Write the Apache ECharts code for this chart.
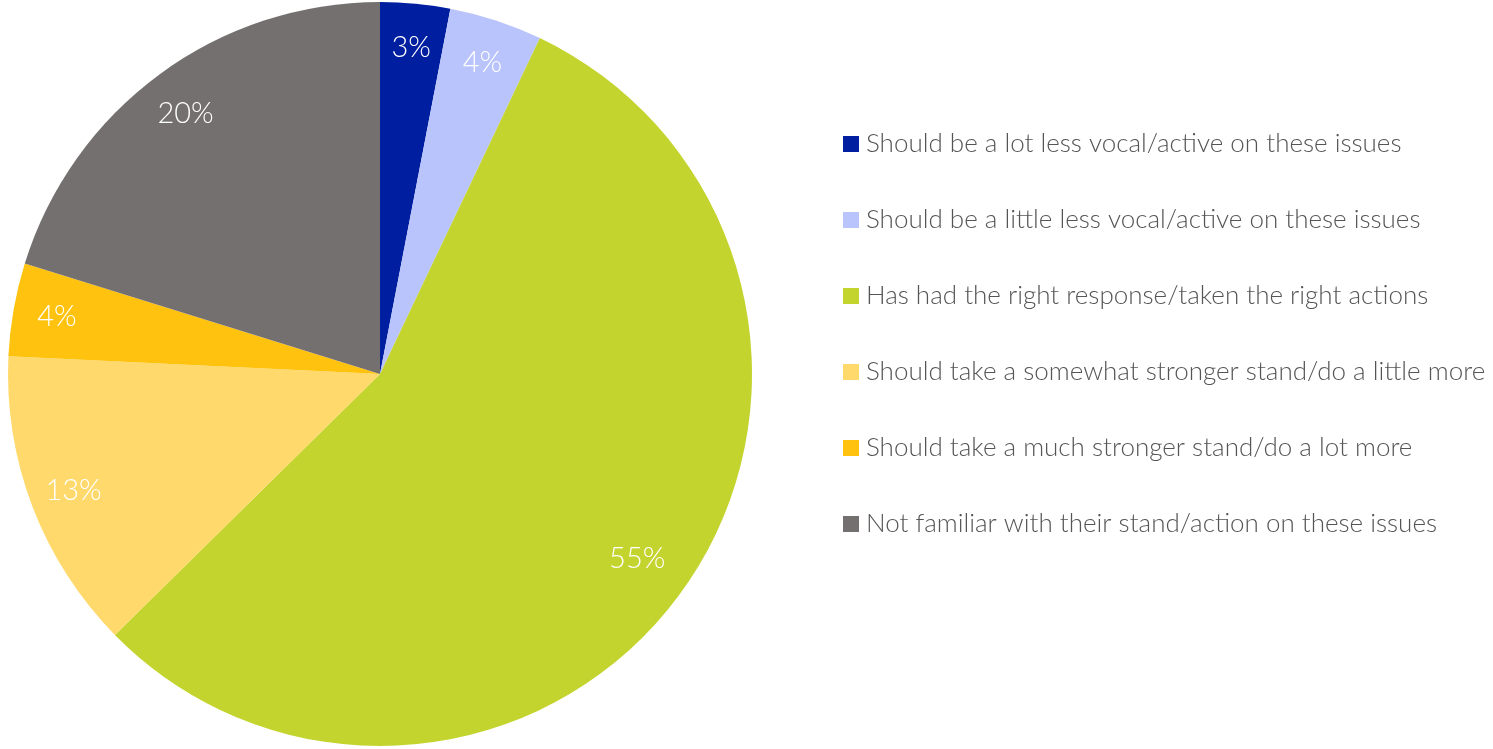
<!DOCTYPE html>
<html>
<head>
<meta charset="utf-8">
<script src="https://cdn.jsdelivr.net/npm/echarts@6/dist/echarts.min.js"></script>
<style>
html,body{margin:0;padding:0;background:#fff;}
#chart{width:1493px;height:749px;}
</style>
</head>
<body>
<div id="chart"></div>
<script>
const categories = [
  "Should be a lot less vocal/active on these issues",
  "Should be a little less vocal/active on these issues",
  "Has had the right response/taken the right actions",
  "Should take a somewhat stronger stand/do a little more",
  "Should take a much stronger stand/do a lot more",
  "Not familiar with their stand/action on these issues"
];
const values = [3, 4, 55, 13, 4, 20];
const colors = ["#001EA0", "#B9C4FC", "#C4D42E", "#FFD96B", "#FFC20E", "#747070"];

const data = categories.map((name, i) => ({ name: name, value: values[i], itemStyle: { color: colors[i] } }));
const labelData = categories.map((name, i) => {
  const d = { name: name, value: values[i] };
  if (i === 2) d.label = { offset: [-10, -6] };
  if (i === 5) d.label = { offset: [0, 4] };
  return d;
});

const chart = echarts.init(document.getElementById('chart'));
chart.setOption({
  animation: false,
  color: colors,
  legend: {
    orient: 'vertical',
    left: 838,
    top: 126,
    itemWidth: 16,
    itemHeight: 16,
    itemGap: 50,
    icon: 'rect',
    data: categories,
    textStyle: {
      fontFamily: 'Lato',
      fontSize: 26,
      fontWeight: 300,
      lineHeight: 26,
      color: '#555555',
      padding: [0, 0, 0, 2]
    }
  },
  series: [
    {
      type: 'pie',
      center: [380, 374],
      radius: [0, 372],
      startAngle: 90,
      clockwise: true,
      silent: true,
      label: { show: false },
      labelLine: { show: false },
      data: data
    },
    {
      type: 'pie',
      center: [380, 374],
      radius: [278, 372],
      startAngle: 90,
      clockwise: true,
      silent: true,
      itemStyle: { color: 'rgba(0,0,0,0)' },
      label: {
        show: true,
        position: 'inside',
        formatter: '{c}%',
        color: '#ffffff',
        fontFamily: 'Lato',
        fontWeight: 300,
        fontSize: 29
      },
      labelLine: { show: false },
      data: labelData
    }
  ]
});
</script>
</body>
</html>
